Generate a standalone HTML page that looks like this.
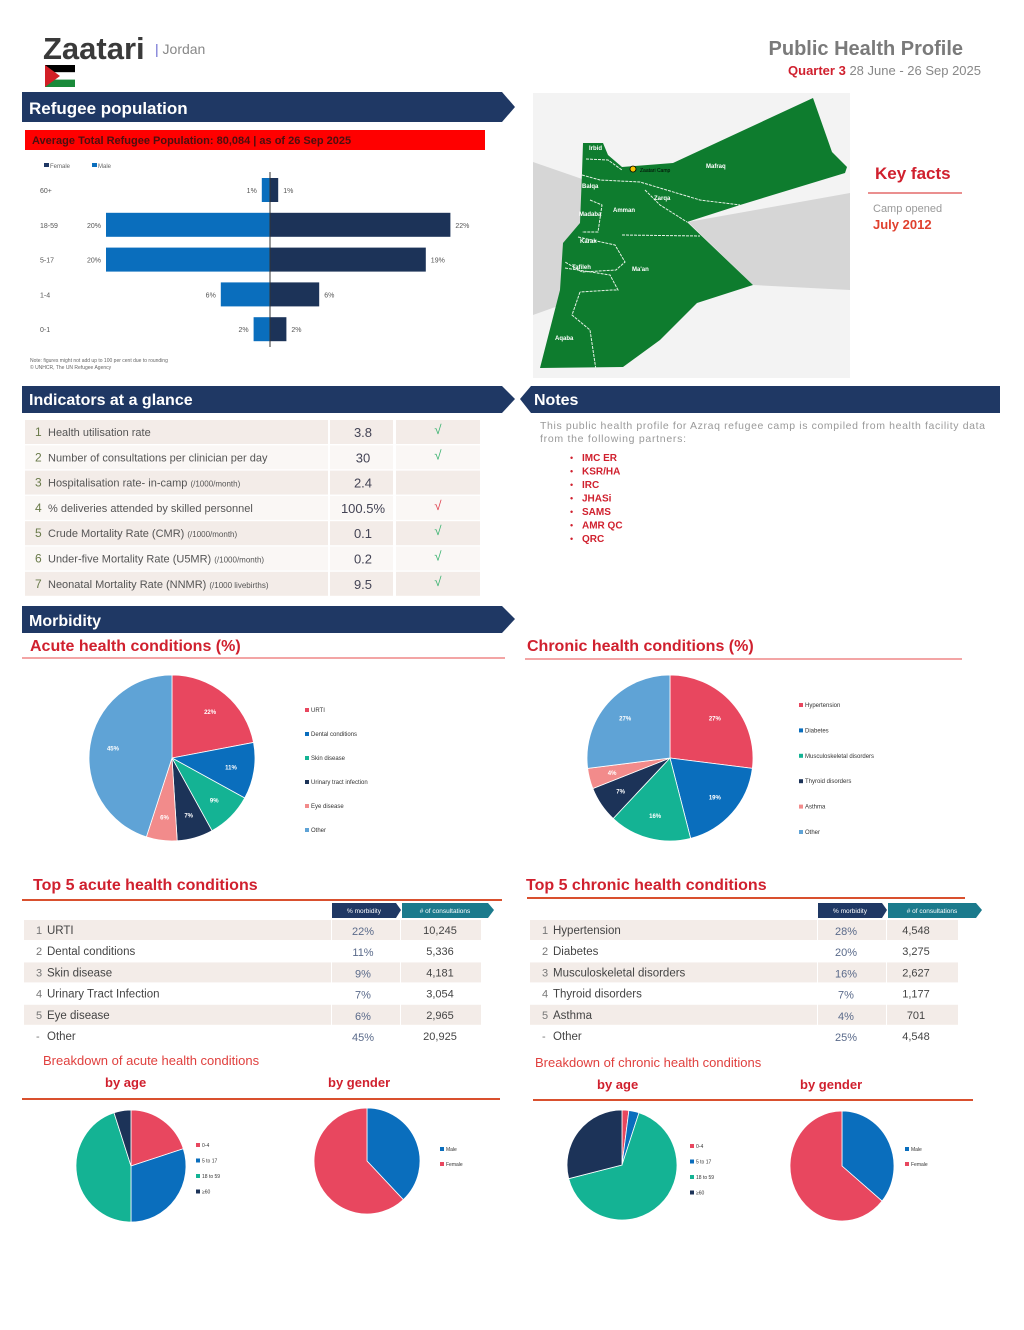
<!DOCTYPE html>
<html><head><meta charset="utf-8"><title>Zaatari Public Health Profile</title>
<style>
html,body{margin:0;padding:0;background:#fff;}
body{width:1024px;height:1325px;overflow:hidden;font-family:"Liberation Sans",Arial,sans-serif;}
svg text{font-family:"Liberation Sans",Arial,sans-serif;}
</style></head>
<body>
<svg id="page" width="1024" height="1325" viewBox="0 0 1024 1325" xmlns="http://www.w3.org/2000/svg">
<rect width="1024" height="1325" fill="#fff"/>
<g>
  <text x="43" y="59" font-size="31" font-weight="bold" fill="#3a3a3a">Zaatari</text>
  <text x="155" y="54" font-size="14" fill="#888"><tspan fill="#6a6ad0">|</tspan> Jordan</text>
  <g>
    <rect x="45" y="65" width="30" height="7.3" fill="#000"/>
    <rect x="45" y="72.3" width="30" height="7.3" fill="#fff"/>
    <rect x="45" y="79.6" width="30" height="7.4" fill="#1a8a3a"/>
    <polygon points="45,65 60,76 45,87" fill="#d21f26"/>
  </g>
  <text x="963" y="55" font-size="20" font-weight="bold" fill="#7a7a7a" text-anchor="end">Public Health Profile</text>
  <text x="981" y="75" font-size="13" fill="#888" text-anchor="end"><tspan fill="#d0202e" font-weight="bold">Quarter 3</tspan>  28 June - 26 Sep 2025</text>
</g>

<g>
  <polygon points="22,92 502,92 515,107 502,122 22,122" fill="#1f3864"/>
  <text x="29" y="114" font-size="17" font-weight="bold" fill="#fff">Refugee population</text>
</g>
<g>
  <polygon points="22,386 502,386 515,399 502,413 22,413" fill="#1f3864"/>
  <text x="29" y="405" font-size="16" font-weight="bold" fill="#fff">Indicators at a glance</text>
</g>
<g>
  <polygon points="531,386 1000,386 1000,413 531,413 520,399" fill="#1f3864"/>
  <text x="534" y="405" font-size="16" font-weight="bold" fill="#fff">Notes</text>
</g>
<g>
  <polygon points="22,606 502,606 515,619 502,633 22,633" fill="#1f3864"/>
  <text x="29" y="626" font-size="16" font-weight="bold" fill="#fff">Morbidity</text>
</g>

<g>
  <rect x="25" y="130" width="460" height="20" fill="#ff0000"/>
  <text x="32" y="144" font-size="11" font-weight="bold" fill="#4a1010">Average Total Refugee Population: 80,084 | as of 26 Sep 2025</text>
</g>
<g id="pyramid"></g>
<text x="30" y="362" font-size="5" fill="#666">Note: figures might not add up to 100 per cent due to rounding</text>
<text x="30" y="369" font-size="5" fill="#666">© UNHCR, The UN Refugee Agency</text>

<g>
  <rect x="533" y="93" width="317" height="285" fill="#f3f3f3"/>
  <polygon points="533,162 585,180 575,300 533,315" fill="#d6d6d6"/>
  <polygon points="688,222 850,193 850,290 753,285" fill="#d6d6d6"/>
  <polygon points="583,143 603,143 608,155 622,167 673,163 813,98 832,152 847,167 845,173 740,205 687,222 753,285 697,303 660,340 623,367 540,368 560,290 563,243 580,223 582,173" fill="#0e7c2e"/>
  <g fill="none" stroke="#e6f2e6" stroke-width="1" stroke-dasharray="3,1">
    <polyline points="586,159 608,160 622,170"/>
    <polyline points="582,175 600,180 640,182 700,200 740,205"/>
    <polyline points="645,190 660,205 687,222"/>
    <polyline points="590,200 602,205 598,232 582,232"/>
    <polyline points="622,235 700,236"/>
    <polyline points="578,237 615,245 625,262 616,270 582,272 565,262"/>
    <polyline points="565,268 610,275 618,290 612,290 580,292"/>
    <polyline points="580,292 572,315 590,330 596,370"/>
  </g>
  <g font-size="6" fill="#fff" font-weight="bold">
    <text x="589" y="150">Irbid</text><text x="706" y="168">Mafraq</text>
    <text x="582" y="188">Balqa</text><text x="613" y="212">Amman</text>
    <text x="654" y="200">Zarqa</text><text x="579" y="216">Madaba</text>
    <text x="580" y="243">Karak</text><text x="572" y="269">Tafileh</text>
    <text x="632" y="271">Ma'an</text><text x="555" y="340">Aqaba</text>
  </g>
  <circle cx="633" cy="169" r="3" fill="#f5c400" stroke="#000" stroke-width="0.8"/>
  <text x="640" y="172" font-size="5" fill="#000">Zaatari Camp</text>
</g>
<g>
  <text x="875" y="179" font-size="17" font-weight="bold" fill="#d0202e">Key facts</text>
  <line x1="868" y1="193" x2="962" y2="193" stroke="#e46a6a" stroke-width="1.5"/>
  <text x="873" y="212" font-size="11" fill="#999">Camp opened</text>
  <text x="873" y="229" font-size="13" font-weight="bold" fill="#e0402e">July 2012</text>
</g>

<g id="indicators"></g>

<g>
  <text x="540" y="429" font-size="10.5" fill="#999" textLength="445" lengthAdjust="spacing">This public health profile for Azraq refugee camp is compiled from health facility data</text>
  <text x="540" y="442" font-size="10.5" fill="#999" textLength="146" lengthAdjust="spacing">from the following partners:</text>
</g>
<g id="partners"></g>

<g>
  <text x="30" y="651" font-size="16" font-weight="bold" fill="#d0202e">Acute health conditions (%)</text>
  <line x1="22" y1="658" x2="505" y2="658" stroke="#f3a5a5" stroke-width="2"/>
</g>
<g>
  <text x="527" y="651" font-size="16" font-weight="bold" fill="#d0202e">Chronic health conditions (%)</text>
  <line x1="525" y1="659" x2="962" y2="659" stroke="#f3a5a5" stroke-width="2"/>
</g>
<g id="acutePie"></g>
<g id="chronicPie"></g>

<g>
  <text x="33" y="890" font-size="16" font-weight="bold" fill="#d0202e">Top 5 acute health conditions</text>
  <line x1="22" y1="900" x2="502" y2="900" stroke="#d9502e" stroke-width="2"/>
</g>
<g>
  <text x="526" y="890" font-size="16" font-weight="bold" fill="#d0202e">Top 5 chronic health conditions</text>
  <line x1="527" y1="898" x2="965" y2="898" stroke="#d9502e" stroke-width="2"/>
</g>
<g id="acuteTable"></g>
<g id="chronicTable"></g>

<g>
  <text x="43" y="1065" font-size="13" fill="#e0403e">Breakdown of acute health conditions</text>
  <text x="105" y="1087" font-size="13" font-weight="bold" fill="#d0202e">by age</text>
  <text x="328" y="1087" font-size="13" font-weight="bold" fill="#d0202e">by gender</text>
  <line x1="22" y1="1099" x2="500" y2="1099" stroke="#d9502e" stroke-width="2"/>
</g>
<g>
  <text x="535" y="1067" font-size="13" fill="#e0403e">Breakdown of chronic health conditions</text>
  <text x="597" y="1089" font-size="13" font-weight="bold" fill="#d0202e">by age</text>
  <text x="800" y="1089" font-size="13" font-weight="bold" fill="#d0202e">by gender</text>
  <line x1="533" y1="1100" x2="973" y2="1100" stroke="#d9502e" stroke-width="2"/>
</g>
<g id="acuteAge"></g>
<g id="acuteGender"></g>
<g id="chronicAge"></g>
<g id="chronicGender"></g>
</svg>

<script>
const ageGroups = ["60+","18-59","5-17","1-4","0-1"];
const maleShare = [1,20,20,6,2];
const femaleShare = [1,22,19,6,2];

const indicatorLabels = ["Health utilisation rate","Number of consultations per clinician per day","Hospitalisation rate- in-camp","% deliveries attended by skilled personnel","Crude Mortality Rate (CMR)","Under-five Mortality Rate (U5MR)","Neonatal Mortality Rate (NNMR)"];
const indicatorUnits = ["","","(/1000/month)","","(/1000/month)","(/1000/month)","(/1000 livebirths)"];
const indicatorValues = ["3.8","30","2.4","100.5%","0.1","0.2","9.5"];
const indicatorStatus = ["ok","ok","none","warn","ok","ok","ok"];

const partners = ["IMC ER","KSR/HA","IRC","JHASi","SAMS","AMR QC","QRC"];

const acuteCategories = ["URTI","Dental conditions","Skin disease","Urinary tract infection","Eye disease","Other"];
const acuteValues = [22,11,9,7,6,45];
const chronicCategories = ["Hypertension","Diabetes","Musculoskeletal disorders","Thyroid disorders","Asthma","Other"];
const chronicValues = [27,19,16,7,4,27];

const acuteTableNames = ["URTI","Dental conditions","Skin disease","Urinary Tract Infection","Eye disease","Other"];
const acuteTablePct = ["22%","11%","9%","7%","6%","45%"];
const acuteTableCount = ["10,245","5,336","4,181","3,054","2,965","20,925"];
const chronicTableNames = ["Hypertension","Diabetes","Musculoskeletal disorders","Thyroid disorders","Asthma","Other"];
const chronicTablePct = ["28%","20%","16%","7%","4%","25%"];
const chronicTableCount = ["4,548","3,275","2,627","1,177","701","4,548"];

const ageBands = ["0-4","5 to 17","18 to 59","≥60"];
const acuteAgeValues = [20,30,45,5];
const chronicAgeValues = [2,3,66,29];
const genders = ["Male","Female"];
const acuteGenderValues = [38,62];
const chronicGenderValues = [36,64];

const NS = "http://www.w3.org/2000/svg";
function mk(tag, attrs, parent){
  const e = document.createElementNS(NS, tag);
  for (const k in attrs) e.setAttribute(k, attrs[k]);
  parent.appendChild(e);
  return e;
}
function txt(str, attrs, parent){ const t = mk("text", attrs, parent); t.textContent = str; return t; }
const PIE_COLORS = ["#e8475f","#0a6ebd","#14b394","#1c3358","#f28b8b","#5fa3d6"];

function drawPie(g, values, cats, cx, cy, rx, ry, colors, showLabels, legend){
  const total = values.reduce((a,b)=>a+b,0);
  let a0 = -Math.PI/2;
  values.forEach((v,i)=>{
    const a1 = a0 + v/total*2*Math.PI;
    const x0 = cx + rx*Math.cos(a0), y0 = cy + ry*Math.sin(a0);
    const x1 = cx + rx*Math.cos(a1), y1 = cy + ry*Math.sin(a1);
    const large = (a1-a0) > Math.PI ? 1 : 0;
    const p = mk("path", {d:`M${cx},${cy} L${x0},${y0} A${rx},${ry} 0 ${large} 1 ${x1},${y1} Z`, fill:colors[i], stroke:"#fff", "stroke-width":"0.8"}, g);
    
    
    if (showLabels){
      const am = (a0+a1)/2;
      const t = txt(v+"%", {x:cx+rx*0.72*Math.cos(am), y:cy+ry*0.72*Math.sin(am)+2, "font-size":"6", "font-weight":"bold", fill:"#fff", "text-anchor":"middle"}, g);
      
      
    }
    a0 = a1;
  });
  cats.forEach((c,i)=>{
    const y = legend.y + i*legend.dy;
    const lg = mk("g", {}, g);
    
    
    mk("rect", {x:legend.x, y:y-4, width:4, height:4, fill:colors[i]}, lg);
    txt(c, {x:legend.x+6, y:y, "font-size":legend.fs||6, fill:"#333"}, lg);
  });
}

(function(){
  const g = document.getElementById("pyramid");
  const cx = 270, scale = 8.2, barH = 24;
  const rowY = i => 190 + i*34.8;
  const lg = mk("g", {}, g);
  
  
  mk("rect", {x:44, y:163, width:5, height:4, fill:"#1f3864"}, lg);
  txt("Female", {x:50, y:168, "font-size":"6", fill:"#666"}, lg);
  mk("rect", {x:92, y:163, width:5, height:4, fill:"#0a6ebd"}, lg);
  txt("Male", {x:98, y:168, "font-size":"6", fill:"#666"}, lg);
  ageGroups.forEach((a,i)=>{
    const y = rowY(i);
    txt(a, {x:40, y:y+3, "font-size":"7", fill:"#555"}, g);
    const wm = maleShare[i]*scale, wf = femaleShare[i]*scale;
    const bm = mk("rect", {x:cx-wm, y:y-barH/2, width:wm, height:barH, fill:"#0a6ebd"}, g);
    
    
    const bf = mk("rect", {x:cx, y:y-barH/2, width:wf, height:barH, fill:"#1c3358"}, g);
    
    
    txt(maleShare[i]+"%", {x:cx-wm-5, y:y+3, "font-size":"7", fill:"#555", "text-anchor":"end"}, g);
    txt(femaleShare[i]+"%", {x:cx+wf+5, y:y+3, "font-size":"7", fill:"#555"}, g);
  });
  mk("line", {x1:cx, y1:172, x2:cx, y2:347, stroke:"#333", "stroke-width":"1"}, g);
})();

(function(){
  const g = document.getElementById("indicators");
  indicatorLabels.forEach((l,i)=>{
    const y = 420 + i*25.3;
    const bg = i%2===0 ? "#f3ece8" : "#faf7f5";
    const row = mk("g", {}, g);
    
    
    mk("rect", {x:25, y:y, width:303, height:24, fill:bg}, row);
    mk("rect", {x:330, y:y, width:63, height:24, fill:bg}, row);
    mk("rect", {x:396, y:y, width:84, height:24, fill:bg}, row);
    txt(String(i+1), {x:35, y:y+16, "font-size":"12", fill:"#6a7a4a"}, row);
    const t = txt(l+" ", {x:48, y:y+16, "font-size":"11", fill:"#555"}, row);
    if (indicatorUnits[i]){ const s = document.createElementNS(NS,"tspan"); s.setAttribute("font-size","8"); s.textContent = indicatorUnits[i]; t.appendChild(s); }
    txt(indicatorValues[i], {x:363, y:y+17, "font-size":"13", fill:"#445", "text-anchor":"middle"}, row);
    if (indicatorStatus[i] !== "none"){
      txt("√", {x:438, y:y+14, "font-size":"13", fill: indicatorStatus[i]==="warn" ? "#e0404e" : "#3cb371", "text-anchor":"middle"}, row);
    }
  });
})();

(function(){
  const g = document.getElementById("partners");
  partners.forEach((p,i)=>{
    const y = 461 + i*13.5;
    const e = mk("g", {}, g);
    
    
    txt("•", {x:570, y:y, "font-size":"9", fill:"#d0202e"}, e);
    txt(p, {x:582, y:y, "font-size":"10", "font-weight":"bold", fill:"#d0202e"}, e);
  });
})();

drawPie(document.getElementById("acutePie"), acuteValues, acuteCategories, 172, 758, 83, 83, PIE_COLORS, true, {x:305, y:712, dy:24});
drawPie(document.getElementById("chronicPie"), chronicValues, chronicCategories, 670, 758, 83, 83, PIE_COLORS, true, {x:799, y:707, dy:25.4});
const AGE_COLORS = ["#e8475f","#0a6ebd","#14b394","#1c3358"];
const GEN_COLORS = ["#0a6ebd","#e8475f"];
drawPie(document.getElementById("acuteAge"), acuteAgeValues, ageBands, 131, 1166, 55, 56, AGE_COLORS, false, {x:196, y:1147, dy:15.5, fs:5});
drawPie(document.getElementById("acuteGender"), acuteGenderValues, genders, 367, 1161, 53, 53, GEN_COLORS, false, {x:440, y:1151, dy:15, fs:5});
drawPie(document.getElementById("chronicAge"), chronicAgeValues, ageBands, 622, 1165, 55, 55, AGE_COLORS, false, {x:690, y:1148, dy:15.5, fs:5});
drawPie(document.getElementById("chronicGender"), chronicGenderValues, genders, 842, 1166, 52, 55, GEN_COLORS, false, {x:905, y:1151, dy:15, fs:5});

function drawTable(g, names, pct, cnt, L){
  const h1 = mk("g", {}, g);
  
  
  mk("polygon", {points:`${L.p0},903 ${L.p1},903 ${L.p1+5},910 ${L.p1},918 ${L.p0},918`, fill:"#1f3864"}, h1);
  txt("% morbidity", {x:(L.p0+L.p1)/2, y:913, "font-size":"6.5", fill:"#fff", "text-anchor":"middle"}, h1);
  const h2 = mk("g", {}, g);
  
  
  mk("polygon", {points:`${L.c0},903 ${L.c1},903 ${L.c1+6},910 ${L.c1},918 ${L.c0},918`, fill:"#1b7a8c"}, h2);
  txt("# of consultations", {x:(L.c0+L.c1)/2, y:913, "font-size":"6.5", fill:"#fff", "text-anchor":"middle"}, h2);
  names.forEach((n,i)=>{
    const y = 920 + i*21.2;
    const row = mk("g", {}, g);
    
    
    if (i%2===0){
      mk("rect", {x:L.x0, y:y, width:L.p0-L.x0-1, height:20, fill:"#f3ece8"}, row);
      mk("rect", {x:L.p0, y:y, width:L.c0-L.p0-2, height:20, fill:"#f3ece8"}, row);
      mk("rect", {x:L.c0-1, y:y, width:L.tEnd-L.c0+1, height:20, fill:"#f3ece8"}, row);
    }
    txt(i<5 ? String(i+1) : "-", {x:L.x0+12, y:y+14, "font-size":"11", fill:"#777"}, row);
    txt(n, {x:L.x0+23, y:y+14, "font-size":"11.5", fill:"#444"}, row);
    txt(pct[i], {x:L.pc, y:y+15, "font-size":"11", fill:"#5a6a8a", "text-anchor":"middle"}, row);
    txt(cnt[i], {x:L.cc, y:y+14, "font-size":"11", fill:"#444", "text-anchor":"middle"}, row);
  });
}
drawTable(document.getElementById("acuteTable"), acuteTableNames, acuteTablePct, acuteTableCount, {x0:24, p0:332, p1:396, c0:402, c1:488, tEnd:481, pc:363, cc:440});
drawTable(document.getElementById("chronicTable"), chronicTableNames, chronicTablePct, chronicTableCount, {x0:530, p0:818, p1:882, c0:888, c1:976, tEnd:958, pc:846, cc:916});
</script>
</body></html>
